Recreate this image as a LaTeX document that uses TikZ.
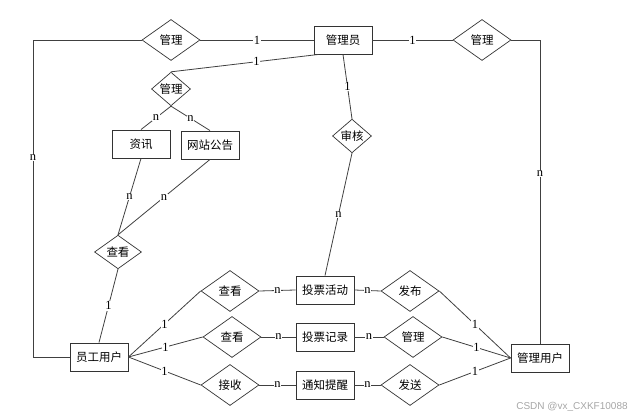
\documentclass[tikz,border=0pt]{standalone}
\usepackage{fontspec}
\newfontfamily\cjk{Noto Sans CJK SC}
\newfontfamily\numfont{Liberation Serif}
\newfontfamily\markfont{Liberation Sans}
\usepackage{tikz}
\usetikzlibrary{positioning}
\usetikzlibrary{calc}
\usetikzlibrary{shapes}

\tikzset{
  entity/.style={draw=black!80,rectangle,line width=0.9pt,minimum width=58pt,minimum height=28pt,inner sep=0pt,font=\cjk\fontsize{11.5}{13}\selectfont},
  rel/.style={draw=black!80,diamond,line width=0.7pt,minimum width=58pt,minimum height=41pt,inner sep=0pt,font=\cjk\fontsize{11.5}{13}\selectfont},
  relsmall/.style={rel,minimum width=39pt,minimum height=26pt},
  card/.style={fill=white,inner sep=0.6pt,font=\numfont\fontsize{12.5}{13}\selectfont},
  link/.style={draw=black!75,line width=0.8pt},
}

\begin{document}
\begin{tikzpicture}[x=1pt,y=-1pt]

\useasboundingbox (0,0) rectangle (641,419);

%TOP
\node[entity](admin)at(343,40){管理员};
\node[rel](lgm)at(171,40){管理};
\node[rel](rgm)at(482,40){管理};
\node[relsmall](mgm)at(171,89){管理};
\node[relsmall](sh)at(352,136){审核};

%LEFT
\node[entity](zx)at(141,144){资讯};
\node[entity](gg)at(210,145){网站公告};
\node[relsmall,minimum width=47pt,minimum height=23pt](ck)at(118,252){查看};
\node[entity](yg)at(99,357){员工用户};

%MIDDLE
\node[rel](ck1)at(230,291){查看};
\node[rel](ck2)at(232,337){查看};
\node[rel](js)at(230,385){接收};
\node[entity](tp)at(325,290){投票活动};
\node[entity](tj)at(325,337){投票记录};
\node[entity](tz)at(325,385){通知提醒};

%RIGHT
\node[rel](fb)at(410,291){发布};
\node[rel](gl)at(413,337){管理};
\node[rel](fs)at(410,385){发送};
\node[entity](gy)at(540,358){管理用户};

\coordinate (lcorner) at (33,40);
\coordinate (adminfoot) at ([xshift=5pt]admin.south west);

%LINKs
\draw[link] (lgm.east) -- node[card]{1} (admin.west);
\draw[link] (admin.east) -- node[card]{1} (rgm.west);
\draw[link] (lgm.west) -- (lcorner) -- node[card,pos=0.37]{n} (lcorner |- yg.west) -- (yg.west);
\draw[link] (rgm.east) -| node[card,pos=0.72]{n} (gy.north);
\draw[link] (adminfoot) -- node[card,pos=0.42]{1} (mgm.north);
\draw[link] (mgm.south) -- node[card]{n} (zx.north);
\draw[link] (mgm.south) -- node[card]{n} (gg.north);
\draw[link] (admin.south) -- node[card]{1} (sh.north);
\draw[link] (sh.south) -- node[card]{n} (tp.north);
\draw[link] (zx.south) -- node[card]{n} (ck.north);
\draw[link] (gg.south) -- node[card]{n} (ck.north);
\draw[link] (ck.south) -- node[card]{1} (yg.north);

\draw[link] (yg.east) -- node[card]{1} (ck1.west);
\draw[link] (yg.east) -- node[card]{1} (ck2.west);
\draw[link] (yg.east) -- node[card]{1} (js.west);
\draw[link] (ck1.east) -- node[card]{n} (tp.west);
\draw[link] (ck2.east) -- node[card]{n} (tj.west);
\draw[link] (js.east) -- node[card]{n} (tz.west);
\draw[link] (tp.east) -- node[card]{n} (fb.west);
\draw[link] (tj.east) -- node[card]{n} (gl.west);
\draw[link] (tz.east) -- node[card]{n} (fs.west);
\draw[link] (fb.east) -- node[card]{1} (gy.west);
\draw[link] (gl.east) -- node[card]{1} (gy.west);
\draw[link] (fs.east) -- node[card]{1} (gy.west);

%MARK
\node[text=black!35,font=\markfont\fontsize{10}{11}\selectfont](mark)at(572,407){CSDN @vx\_CXKF10088};

\end{tikzpicture}
\end{document}
